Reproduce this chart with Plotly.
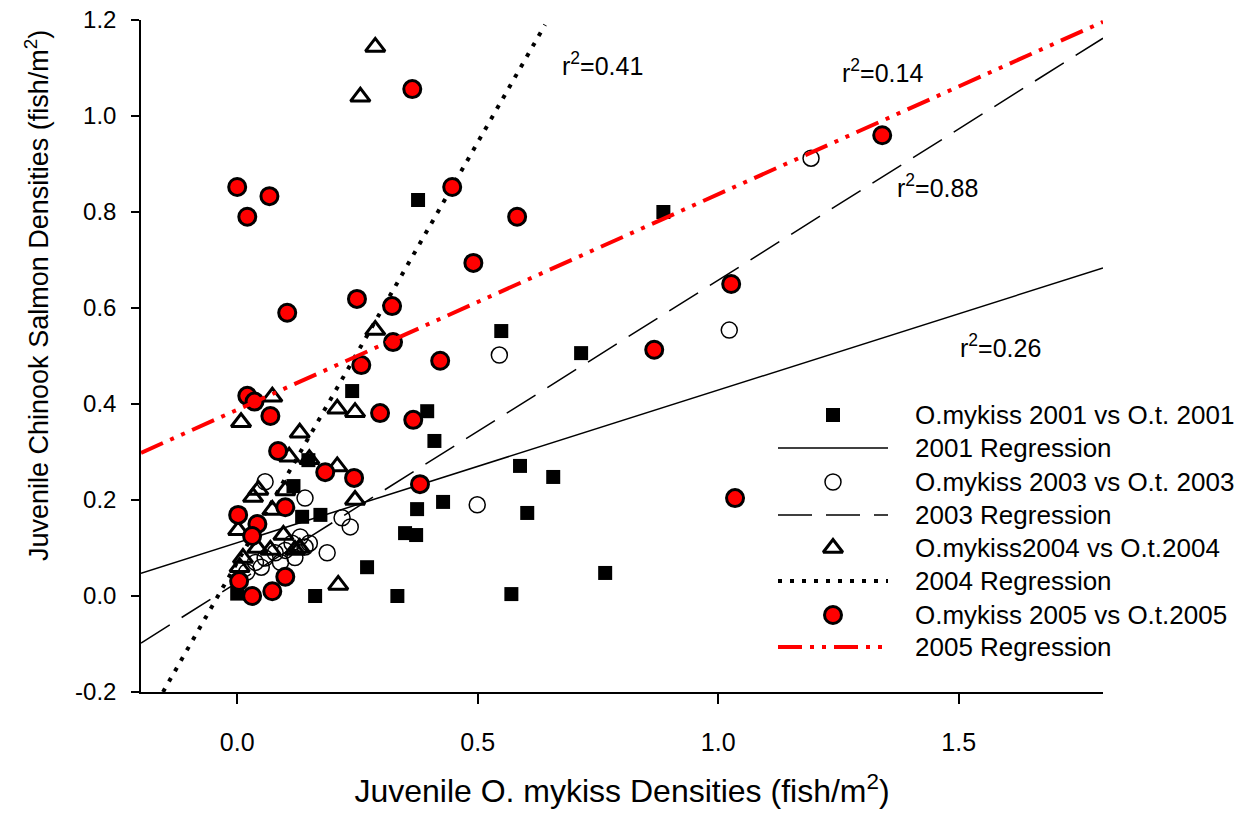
import numpy as np
import plotly.graph_objects as go

# ---------------- data ----------------
x2001 = [0.376, 0.886, 0.549, 0.715, 0.239, 0.395, 0.41, 0.588, 0.657, 0.428, 0.603, 0.374,
         0.349, 0.372, 0.27, 0.333, 0.57, 0.765, 0.162, 0.173, 0.135, 0.117, 0.148, 0.0]
y2001 = [0.825, 0.80, 0.552, 0.506, 0.427, 0.385, 0.323, 0.271, 0.248, 0.196, 0.173, 0.181,
         0.131, 0.127, 0.06, 0.0, 0.004, 0.048, 0.0, 0.169, 0.165, 0.229, 0.283, 0.005]

x2003 = [1.193, 1.023, 0.545, 0.499, 0.218, 0.235, 0.058, 0.141, 0.187, 0.131, 0.114, 0.141,
         0.12, 0.079, 0.09, 0.058, 0.038, 0.05, 0.02, 0.10, 0.15]
y2003 = [0.912, 0.554, 0.502, 0.19, 0.163, 0.144, 0.238, 0.204, 0.09, 0.123, 0.11, 0.102,
         0.08, 0.09, 0.07, 0.079, 0.07, 0.06, 0.05, 0.095, 0.11]

x2004 = [0.287, 0.256, 0.287, 0.008, 0.073, 0.13, 0.208, 0.245, 0.245, 0.208, 0.108, 0.15,
         0.21, 0.044, 0.033, 0.073, 0.002, 0.096, 0.042, 0.069, 0.12, 0.012, 0.005, 0.13, 0.10]
y2004 = [1.144, 1.04, 0.554, 0.362, 0.415, 0.34, 0.39, 0.383, 0.2, 0.27, 0.29, 0.285,
         0.023, 0.221, 0.206, 0.179, 0.137, 0.127, 0.10, 0.096, 0.096, 0.079, 0.06, 0.10, 0.22]

x2005 = [0.0, 0.021, 0.067, 0.104, 0.364, 0.447, 0.491, 0.582, 0.249, 0.322, 0.324, 0.258,
         0.422, 0.297, 0.366, 0.38, 0.183, 0.243, 0.867, 1.027, 1.035, 1.341, 0.021, 0.036,
         0.069, 0.085, 0.10, 0.002, 0.042, 0.031, 0.004, 0.031, 0.073, 0.10]
y2005 = [0.852, 0.79, 0.833, 0.59, 1.056, 0.852, 0.694, 0.79, 0.619, 0.604, 0.529, 0.481,
         0.49, 0.381, 0.367, 0.233, 0.258, 0.246, 0.513, 0.65, 0.204, 0.96, 0.417, 0.405,
         0.375, 0.302, 0.185, 0.169, 0.15, 0.125, 0.031, 0.0, 0.01, 0.04]

# regression coefficients (intercept, slope) and r^2 labels
reg_intercept = {"2001": 0.111, "2003": 0.028, "2004": 0.07, "2005": 0.388}
reg_slope = {"2001": 0.318, "2003": 0.63, "2004": 1.75, "2005": 0.449}
r2_labels = ["r<sup>2</sup>=0.41", "r<sup>2</sup>=0.14", "r<sup>2</sup>=0.88", "r<sup>2</sup>=0.26"]
r2_x = [0.672, 1.254, 1.368, 1.499]
r2_y = [1.109, 1.094, 0.855, 0.52]

legend_labels = ["O.mykiss 2001 vs O.t. 2001", "2001 Regression",
                 "O.mykiss 2003 vs O.t. 2003", "2003 Regression",
                 "O.mykiss2004 vs O.t.2004", "2004 Regression",
                 "O.mykiss 2005 vs O.t.2005", "2005 Regression"]

x_ticks = [0.0, 0.5, 1.0, 1.5]
x_ticktext = ["0.0", "0.5", "1.0", "1.5"]
y_ticks = [-0.2, 0.0, 0.2, 0.4, 0.6, 0.8, 1.0, 1.2]
y_ticktext = ["-0.2", "0.0", "0.2", "0.4", "0.6", "0.8", "1.0", "1.2"]

x_title = "Juvenile O. mykiss Densities (fish/m<sup>2</sup>)"
y_title = "Juvenile Chinook Salmon Densities (fish/m<sup>2</sup>)"

FONT = "Arial, Liberation Sans, sans-serif"

# ---------------- styles ----------------
sq_marker = dict(symbol="square", size=14, color="black", line=dict(width=0))
oc_marker = dict(symbol="circle-open", size=16, color="black", line=dict(width=1.5))
tr_marker = dict(symbol="triangle-up-open", size=17, color="black", line=dict(width=3))
rc_marker = dict(symbol="circle", size=17, color="red", line=dict(width=3, color="black"))
l2001 = dict(color="black", width=1.5)
l2003 = dict(color="black", width=1.5, dash="34px,14px")
l2004 = dict(color="black", width=4, dash="4px,8px")
l2005 = dict(color="red", width=4, dash="24px,8px,4px,8px,4px,8px")


def line_pts(year, y_lo=None, y_hi=None):
    b, m = reg_intercept[year], reg_slope[year]
    x0, x1 = -0.2, 1.8
    if y_lo is not None:
        x0 = max(x0, (y_lo - b) / m)
    if y_hi is not None:
        x1 = min(x1, (y_hi - b) / m)
    xs = np.array([x0, x1])
    return xs, b + m * xs


fig = go.Figure()

fig.add_trace(go.Scatter(x=x2001, y=y2001, mode="markers", name=legend_labels[0], marker=sq_marker))
xs, ys = line_pts("2001")
fig.add_trace(go.Scatter(x=xs, y=ys, mode="lines", name=legend_labels[1], line=l2001))
fig.add_trace(go.Scatter(x=x2003, y=y2003, mode="markers", name=legend_labels[2], marker=oc_marker))
xs, ys = line_pts("2003")
fig.add_trace(go.Scatter(x=xs, y=ys, mode="lines", name=legend_labels[3], line=l2003))
fig.add_trace(go.Scatter(x=x2004, y=y2004, mode="markers", name=legend_labels[4], marker=tr_marker))
xs, ys = line_pts("2004", y_lo=-0.2, y_hi=1.19)
fig.add_trace(go.Scatter(x=xs, y=ys, mode="lines", name=legend_labels[5], line=l2004))
fig.add_trace(go.Scatter(x=x2005, y=y2005, mode="markers", name=legend_labels[6], marker=rc_marker))
xs, ys = line_pts("2005")
fig.add_trace(go.Scatter(x=xs, y=ys, mode="lines", name=legend_labels[7], line=l2005))

# ---------------- hand-made legend (overlay axes in plot-fraction units) ----------------
plot_l, plot_r, plot_t, plot_b = 141, 1103, 20, 692
def fx(px):
    return (px - plot_l) / (plot_r - plot_l)
def fy(py):
    return (plot_b - py) / (plot_b - plot_t)

row_py = [415, 448, 482, 515, 548, 581, 615, 647]
styles = [("m", sq_marker), ("l", l2001), ("m", oc_marker), ("l", l2003),
          ("m", tr_marker), ("l", l2004), ("m", rc_marker), ("l", l2005)]
for (kind, st), py, label in zip(styles, row_py, legend_labels):
    if kind == "m":
        fig.add_trace(go.Scatter(x=[fx(833)], y=[fy(py)], mode="markers", marker=st,
                                 xaxis="x2", yaxis="y2", showlegend=False, hoverinfo="skip"))
    else:
        fig.add_trace(go.Scatter(x=[fx(778), fx(888)], y=[fy(py), fy(py)], mode="lines", line=st,
                                 xaxis="x2", yaxis="y2", showlegend=False, hoverinfo="skip"))
    fig.add_annotation(x=fx(913), y=fy(py), xref="paper", yref="paper", text=label,
                       showarrow=False, xanchor="left", yanchor="middle",
                       font=dict(family=FONT, size=26, color="black"))

for t, xx, yy in zip(r2_labels, r2_x, r2_y):
    fig.add_annotation(x=xx, y=yy, text=t, showarrow=False, xanchor="left", yanchor="middle",
                       font=dict(family=FONT, size=25, color="black"))

# y-axis title (placed as in the reference, above the plot-area centre)
fig.add_annotation(x=fx(37), y=fy(296), xref="paper", yref="paper", text=y_title,
                   textangle=-90, showarrow=False, xanchor="center", yanchor="middle",
                   font=dict(family=FONT, size=27, color="black"))

fig.update_layout(
    width=1257, height=815,
    margin=dict(l=plot_l, r=1257 - plot_r, t=plot_t, b=815 - plot_b),
    paper_bgcolor="white", plot_bgcolor="white",
    font=dict(family=FONT, size=24, color="black"),
    showlegend=False,
    xaxis=dict(range=[-0.2, 1.8], tickvals=x_ticks, ticktext=x_ticktext, automargin=False,
               showgrid=False, zeroline=False, showline=True, linecolor="black", linewidth=1.5,
               ticks="outside", ticklen=10, tickwidth=1.5, tickcolor="black",
               tickfont=dict(size=25), ticklabelstandoff=17,
               title=dict(text=x_title, font=dict(size=32), standoff=25)),
    yaxis=dict(range=[-0.2, 1.2], tickvals=y_ticks, ticktext=y_ticktext, automargin=False,
               showgrid=False, zeroline=False, showline=True, linecolor="black", linewidth=1.5,
               ticks="outside", ticklen=8, tickwidth=1.5, tickcolor="black",
               tickfont=dict(size=24), ticklabelstandoff=10),
    xaxis2=dict(range=[0, 1], overlaying="x", visible=False, fixedrange=True, automargin=False),
    yaxis2=dict(range=[0, 1], overlaying="y", visible=False, fixedrange=True, automargin=False),
)

fig.write_html("out.html")
